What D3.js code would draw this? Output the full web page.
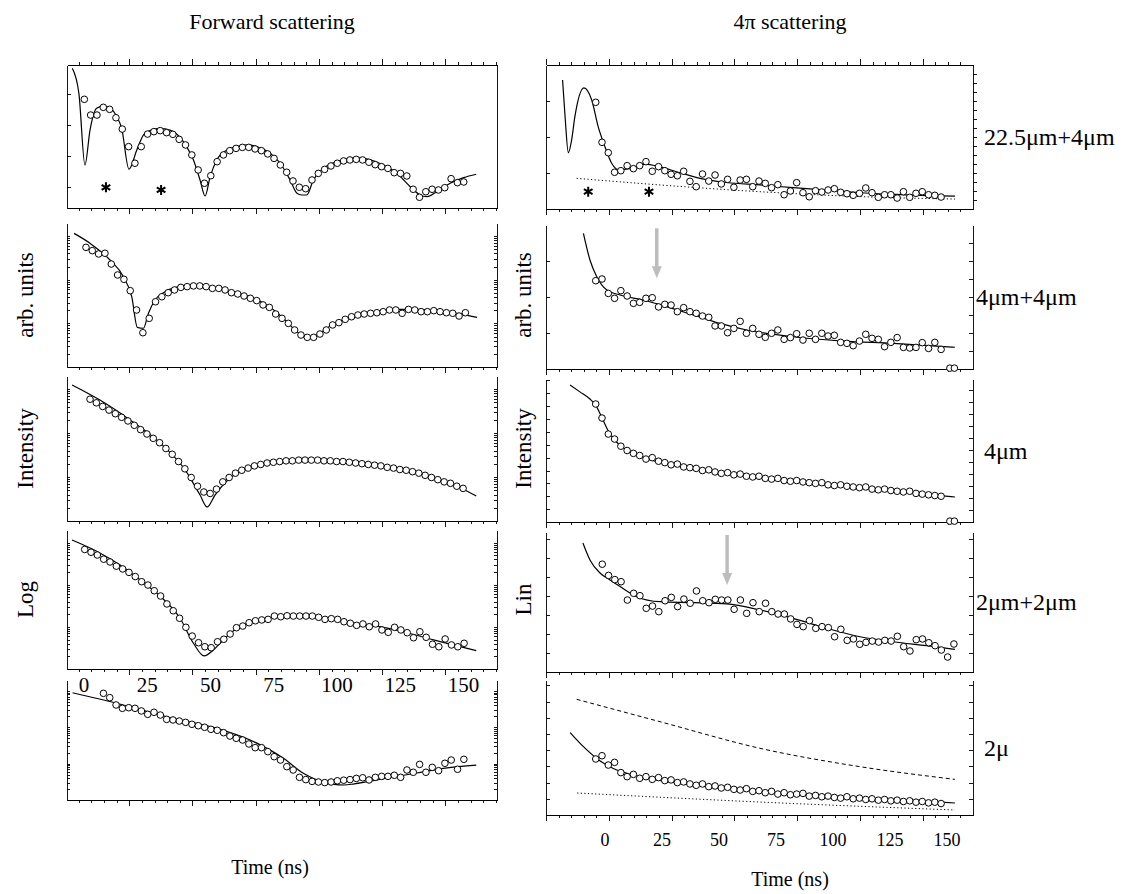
<!DOCTYPE html>
<html>
<head>
<meta charset="utf-8">
<script src="https://cdn.jsdelivr.net/npm/d3@7/dist/d3.min.js"></script>
<style>
  html, body { margin: 0; padding: 0; background: #fff; }
  svg { display: block; font-family: "Liberation Serif", "Times New Roman", serif; }
  .axis path, .axis line { stroke: #000; stroke-width: 0.9; shape-rendering: crispEdges; }
</style>
</head>
<body>
<div id="chart"></div>
<script>
/* Time spectra, forward vs 4π scattering.
   t in ns, intensity in panel units (0 = bottom of frame, 100 = top). */

const OBS_STEP = 2.5;

// ---- Forward scattering (left column) ----
const fwd1Fit = [[2.5,97.7],[5.1,80.2],[7.5,30.1],[9.5,54.5],[12.1,69.7],[14.8,71.3],[17.4,69.9],[20.1,63.8],[22.0,55.9],[24.9,27.1],[28.0,40.6],[30.6,51.0],[33.2,54.1],[37.2,55.7],[41.1,54.5],[45.1,49.4],[47.7,42.9],[50.4,33.6],[53.0,19.6],[55.0,8.4],[57.0,21.9],[59.6,33.6],[63.6,40.6],[67.5,42.9],[71.5,44.1],[75.4,42.9],[80.7,38.3],[84.7,31.3],[88.6,19.6],[91.3,10.3],[93.2,9.1],[95.2,9.1],[97.8,19.6],[101.8,27.8],[107.1,32.4],[112.3,34.8],[116.3,35.0],[120.3,33.6],[125.5,30.1],[130.8,24.3],[136.1,14.9],[140.0,9.1],[142.7,7.9],[146.6,11.4],[151.9,17.3],[157.2,21.2],[162.2,23.6]];
const fwd1Start = 7.25;
const fwd1Obs = [76.0,65.0,65.0,70.4,69.0,63.1,55.2,42.9,31.3,42.9,51.7,53.4,54.1,52.7,51.5,48.0,44.1,37.1,26.6,17.3,22.6,32.4,37.1,40.1,41.7,42.4,42.4,41.3,40.1,37.8,34.7,30.1,25.0,18.9,14.5,13.5,19.6,24.2,27.0,29.4,31.3,32.9,33.6,34.0,33.6,32.0,30.3,28.9,27.7,24.7,24.2,22.4,13.1,7.5,11.4,13.1,12.6,14.2,20.5,17.7,18.2];
const fwd1Stars = [[15.8,14.5],[37.6,12.6]];

const fwd2Fit = [[3.2,92.8],[9.5,85.9],[17.4,74.3],[22.7,62.7],[26.0,48.8],[28.2,27.5],[30.6,26.9],[32.6,37.3],[35.2,46.5],[39.2,52.3],[46.4,56.3],[51.7,56.9],[57.0,55.8],[64.9,52.8],[72.8,48.8],[79.4,43.1],[86.0,33.8],[91.3,24.5],[95.2,19.9],[99.2,22.2],[104.4,28.5],[112.3,34.5],[120.3,37.7],[130.8,40.0],[138.7,40.0],[146.6,39.1],[154.5,37.3],[162.5,34.5]];
const fwd2Start = 7.9;
const fwd2Obs = [83.1,80.8,78.5,79.0,71.5,63.9,60.9,53.0,39.6,23.8,33.8,45.3,48.8,51.6,53.5,55.3,55.8,56.3,56.3,55.8,54.6,54.6,53.5,51.6,50.7,49.3,47.7,46.1,43.1,41.4,36.8,33.8,30.3,25.7,22.2,20.6,20.6,22.9,25.7,29.2,30.8,33.1,34.9,36.1,36.8,37.3,37.7,38.4,39.6,39.6,37.3,40.0,39.6,38.4,38.4,39.1,38.4,37.7,37.3,35.4,37.7];

const fwd3Fit = [[2.4,93.8],[13.4,83.4],[25.3,69.7],[37.2,53.8],[47.1,35.2],[53.0,17.9],[55.8,9.7],[58.9,17.9],[64.9,29.7],[72.8,36.6],[84.7,40.7],[100.5,42.1],[112.3,41.4],[124.2,38.6],[140.0,33.1],[151.9,26.2],[162.2,17.2]];
const fwd3Start = 9.5;
const fwd3Obs = [84,81.5,79,76.5,74,71.5,69,66,63,60,57,54,50,46,41,36,30,24,20,19,22,27,30,33,35,36.5,38,39,40,40.5,41,41.5,41.5,42,42,42,42,41.5,41.5,41,41,40.5,40,39.5,39,38.5,38,37,36.5,35.5,35,34,33,31.5,30,28.5,27,26,24,22.5];

const fwd4Fit = [[2.4,92.8],[13.4,83.5],[21.4,74.8],[29.3,64.0],[37.2,52.5],[45.1,36.5],[50.4,18.5],[54.6,9.4],[58.3,13.7],[62.2,20.9],[67.5,29.3],[75.4,34.8],[83.3,37.6],[92.6,38.1],[101.8,36.5],[112.3,33.3],[122.9,30.9],[133.4,26.8],[145.3,20.9],[162.2,13.2]];
const fwd4Start = 7.4;
const fwd4Obs = [86,84,82,79,77,74,72,69.5,66.5,62.8,60.4,56.3,52.5,46.8,41.9,36.5,30.0,23.7,18.9,16.0,15.3,19.6,21.4,25.2,29.7,30.9,33.3,34.7,35.3,35.7,38.1,37.6,38.3,38.1,38.1,38.1,38.1,37.2,35.7,36.2,35.7,34.0,32.9,31.4,32.4,30.4,32.4,28.1,26.4,30.0,28.1,26.1,22.5,26.8,22.8,17.8,16.0,21.6,17.3,16.0,18.5];

const fwd5Fit = [[2.6,89.4],[20.1,80.6],[39.8,69.4],[59.6,59.7],[72.8,50.0],[86.0,34.7],[94.0,22.0],[100.0,16.0],[106.0,13.0],[110.0,12.5],[114.0,13.5],[125.0,17.5],[138.7,22.5],[150.0,26.5],[162.2,29.0]];
const fwd5Start = 14.8;
const fwd5Obs = [88.9,85.3,79.2,76.4,76.9,76.4,74.2,71.4,73.1,70.8,67.2,66.7,65.8,64.7,63.1,61.9,60.6,58.9,58.1,56.1,53.3,51.4,50.0,46.7,43.6,43.6,40.3,36.1,33.3,27.8,25.0,18.9,17,15.5,15,14.5,15,16,16.5,17,18,18.5,16.7,18.9,19.7,19.7,20.6,18.9,25.0,23.1,29.7,23.1,27.2,24.4,30.6,33.3,25.6,33.9];

// ---- 4π scattering (right column) ----
const sct1Fit = [[-18.4,89.6],[-17.4,64.1],[-16.1,39.1],[-14.8,47.9],[-13.5,64.1],[-9.9,84.1],[-6.8,75.7],[-4.2,57.0],[-1.5,43.1],[1.2,31.6],[3.8,27.4],[8.4,28.1],[14.4,31.1],[20.4,29.2],[27.0,25.9],[36.3,21.3],[46.9,18.4],[60.2,16.7],[73.4,14.8],[86.7,13.2],[100,11.3],[113.3,10.2],[126.5,9.3],[137.8,8.9]];
const sct1Dotted = [[-12.8,21.3],[20.4,16.7],[60.2,12.0],[100,8.6],[137.8,6.9]];
const sct1Start = -5.2;
const sct1Obs = [74.1,46.3,39.1,25.5,26.6,30.1,28.0,30.1,32.9,26.2,29.4,26.6,24.1,23.1,26.2,19.2,15.5,24.3,19.4,23.6,17.4,20.6,15.1,20.1,20.6,15.5,19.4,17.8,14.8,16.9,9.9,12.5,18.3,11.3,8.5,12.7,11.8,13.2,14.1,11.6,10.6,9.5,10.9,14.6,11.3,8.1,9.9,9.9,7.6,12.0,8.1,10.9,12.0,9.9,9.5,8.3];
const sct1Stars = [[-8.2,12.0],[16.0,12.0]];

const sct2Fit = [[-10.1,94.2],[-7.5,75.7],[-4.8,64.1],[-0.8,54.9],[4.5,51.4],[13.7,47.9],[23.0,43.3],[33.6,37.5],[44.3,31.7],[54.9,27.1],[73.4,22.4],[93.4,19.4],[113.3,17.8],[137.8,15.1]];
const sct2Start = -5.2;
const sct2Obs = [61.3,62.5,52.5,49.1,54.4,50.7,45.6,46.3,49.1,49.5,43.1,44.9,44.4,39.8,42.6,39.8,38.7,36.8,35.9,29.9,29.9,25.2,28.2,33.1,24.8,28.2,24.1,22.0,24.8,27.1,20.6,21.8,24.5,20.1,24.8,20.6,24.8,22.9,23.4,18.5,17.8,16.2,19.4,24.1,21.3,20.6,15.5,18.5,21.8,15.0,14.6,15.0,18.3,14.3,18.5,13.6];
const sct2Outliers = [[135.8,0.6],[137.6,0.6]];
const sct2Arrow = [19.1, 97.7, 63.0];

const sct3Fit = [[-15.4,95.8],[-11.5,91],[-7.5,86],[-5,81],[-2.5,72],[0,63],[2.5,57],[6.4,51],[10,47.5],[16.4,43.5],[25,40],[36.3,36.5],[56.2,31.5],[76.1,27.5],[96,24.5],[115.9,21],[137.8,17.5]];
const sct3Start = -5.2;
const sct3Obs = [82.5,72.7,61.5,58,53,50,48,46.5,44,45,42.5,41.5,40,40.5,38.5,38,37.5,36,36.5,35,34,34.5,33,33.5,32,31.5,32,30.5,30,30.5,29,28.5,29,28,27.5,27,27.5,26,25.5,26,25,24.5,24,24.5,23,22.5,23,22,21.5,21,21.5,20,19.5,19,18.5,18];
const sct3Outliers = [[135.8,0.6],[137.6,0.6]];

const sct4Fit = [[-10.3,92.1],[-7.5,80],[-3.5,70.7],[0.5,65.7],[4.5,61],[11.1,53.8],[20.4,50.2],[33.6,49.5],[46.9,48.6],[60.2,44.3],[73.4,38.3],[86.7,31.2],[100,25.2],[113.3,21.6],[126.5,18.8],[137.8,16.2]];
const sct4Start = -2.6;
const sct4Obs = [77,69,66,64.5,51.4,56.2,54.5,45.5,47.1,43.1,50.9,53.3,46.7,52.1,49.1,57.9,50.9,49.5,51.9,51.4,51.4,44.8,51.4,41.9,49.5,43.1,49.1,43.1,41.4,41.4,37.9,34.0,32.4,36.7,31.2,32.4,31.7,25.2,30.5,22.6,23.6,19.8,21.2,22.1,21.4,22.6,22.1,25.5,18.1,15.0,23.1,23.6,20.9,18.8,15.7,10.7,20.0];
const sct4Arrow = [47.1, 97.9, 62.1];

const sct5Fit = [[-15.4,61],[-10.1,50.6],[-4.8,41.9],[1.8,34.4],[9.8,29.6],[36.3,21.5],[76.1,15.6],[115.9,11.1],[137.8,8.9]];
const sct5Dashed = [[-12.8,85.7],[20.4,69.1],[60.2,49.4],[100,35.8],[137.8,26.4]];
const sct5Dotted = [[-12.6,16.3],[60.2,9.6],[137.8,3.7]];
const sct5Start = -5.2;
const sct5Obs = [41.5,43.9,37.0,39.0,31.4,28.4,30.1,27.2,28.4,26.4,27.7,25.5,26,24,24.5,23,22,23,21,21.5,20,20.5,19,18.5,19.5,17.5,18,16.5,17.5,15.5,16.5,15,15.5,16,14,14.5,13.5,14,13,12.5,13.5,12,12.5,11.5,12,11,11.5,10.5,11,10,10.5,9.5,10,9,9.5,8.5];

// ---- labels ----
const timeTicks = [0, 25, 50, 75, 100, 125, 150];
const colTitles = ["Forward scattering", "4\u03c0 scattering"];
const yLabels = ["arb. units", "Intensity", "Log"];
const yLabelsRight = ["arb. units", "Intensity", "Lin"];
const sampleLabels = ["22.5\u03bcm+4\u03bcm", "4\u03bcm+4\u03bcm", "4\u03bcm", "2\u03bcm+2\u03bcm", "2\u03bc"];

(function () {
  const W = 1133, H = 894;
  const svg = d3.select('#chart').append('svg').attr('width', W).attr('height', H);
  svg.append('rect').attr('width', W).attr('height', H).attr('fill', '#fff');

  // column frames and row frames (pixels)
  const COLS = [
    { x0: 67, x1: 497, rows: [[65, 208], [223, 367], [376, 521], [530, 669], [680, 800]] },
    { x0: 546, x1: 973, rows: [[65, 209], [225, 369], [379, 522], [532, 672], [680, 815]] }
  ];
  const xLeft = d3.scaleLinear().domain([0.4, 170.4]).range([COLS[0].x0, COLS[0].x1]);
  const xRight = d3.scaleLinear().domain([-25, 145]).range([COLS[1].x0, COLS[1].x1]);
  // the printed labels of the right column are spaced on their own
  const xRightLabel = d3.scaleLinear().domain([0, 150]).range([605, 947]);

  const obsPoints = (start, vals) => vals.map((v, i) => [start + i * OBS_STEP, v]);

  const panels = [
    { col: 0, row: 0, fit: fwd1Fit, obs: obsPoints(fwd1Start, fwd1Obs), stars: fwd1Stars, yTicks: 'lin4', top: true },
    { col: 0, row: 1, fit: fwd2Fit, obs: obsPoints(fwd2Start, fwd2Obs), yTicks: 'log' },
    { col: 0, row: 2, fit: fwd3Fit, obs: obsPoints(fwd3Start, fwd3Obs), yTicks: 'log' },
    { col: 0, row: 3, fit: fwd4Fit, obs: obsPoints(fwd4Start, fwd4Obs), yTicks: 'log' },
    { col: 0, row: 4, fit: fwd5Fit, obs: obsPoints(fwd5Start, fwd5Obs), yTicks: 'log' },
    { col: 1, row: 0, fit: sct1Fit, obs: obsPoints(sct1Start, sct1Obs), dotted: sct1Dotted, stars: sct1Stars, top: true, leftStep: 25, rightStep: 6.25, rightOut: true },
    { col: 1, row: 1, fit: sct2Fit, obs: obsPoints(sct2Start, sct2Obs).concat(sct2Outliers), arrow: sct2Arrow, leftStep: 25, rightStep: 12.5 },
    { col: 1, row: 2, fit: sct3Fit, obs: obsPoints(sct3Start, sct3Obs).concat(sct3Outliers), leftStep: 9, rightStep: 8.4 },
    { col: 1, row: 3, fit: sct4Fit, obs: obsPoints(sct4Start, sct4Obs), arrow: sct4Arrow, leftStep: 13.6, rightStep: 13.6 },
    { col: 1, row: 4, fit: sct5Fit, obs: obsPoints(sct5Start, sct5Obs), dashed: sct5Dashed, dotted: sct5Dotted, leftStep: 12, rightStep: 12 }
  ];

  function stepTicks(step) {
    const out = [];
    for (let v = step; v < 100; v += step) out.push(v);
    return out;
  }

  function drawPanel(p) {
    const c = COLS[p.col];
    const [top, bottom] = c.rows[p.row];
    const x = p.col === 0 ? xLeft : xRight;
    const y = d3.scaleLinear().domain([0, 100]).range([bottom, top]);
    const g = svg.append('g');

    // time axis: minor ticks every 5 ns, longer ones every 25 ns
    const dom = x.domain();
    const minor = d3.range(Math.ceil(dom[0] / 5) * 5, dom[1], 5).filter(v => v % 25 !== 0);
    const major = d3.range(Math.ceil(dom[0] / 25) * 25, dom[1], 25);
    const tAxes = [[bottom, d3.axisBottom]];
    if (p.top) tAxes.push([top, d3.axisTop]);
    tAxes.forEach(([yy, fn]) => {
      g.append('g').attr('class', 'axis').attr('transform', `translate(0,${yy})`)
        .call(fn(x).tickValues(minor).tickSize(3).tickSizeOuter(0).tickFormat(''));
      g.append('g').attr('class', 'axis').attr('transform', `translate(0,${yy})`)
        .call(fn(x).tickValues(major).tickSize(6).tickSizeOuter(0).tickFormat(''));
    });

    // vertical axes
    if (p.yTicks === 'log') {
      const ylog = d3.scaleLog().domain([1, 2000]).range([bottom, top]);
      const tv = ylog.ticks().filter(v => v > 1 && v < 2000);
      [[c.x0, d3.axisRight], [c.x1, d3.axisLeft]].forEach(([xx, fn]) => {
        g.append('g').attr('class', 'axis').attr('transform', `translate(${xx},0)`)
          .call(fn(ylog).tickValues(tv).tickSize(3).tickSizeOuter(0).tickFormat(''));
      });
    } else if (p.yTicks === 'lin4') {
      g.append('g').attr('class', 'axis').attr('transform', `translate(${c.x0},0)`)
        .call(d3.axisRight(y).tickValues([15, 36.5, 58, 79.5]).tickSize(4).tickSizeOuter(0).tickFormat(''));
      g.append('g').attr('class', 'axis').attr('transform', `translate(${c.x1},0)`)
        .call(d3.axisLeft(y).tickValues([]).tickSizeOuter(0));
    } else {
      g.append('g').attr('class', 'axis').attr('transform', `translate(${c.x0},0)`)
        .call(d3.axisRight(y).tickValues(stepTicks(p.leftStep)).tickSize(4).tickSizeOuter(0).tickFormat(''));
      const rfn = p.rightOut ? d3.axisRight : d3.axisLeft;
      g.append('g').attr('class', 'axis').attr('transform', `translate(${c.x1},0)`)
        .call(rfn(y).tickValues(stepTicks(p.rightStep)).tickSize(4).tickSizeOuter(0).tickFormat(''));
    }

    const line = d3.line().x(d => x(d[0])).y(d => y(d[1])).curve(d3.curveMonotoneX);
    if (p.dashed) {
      g.append('path').attr('d', line(p.dashed))
        .attr('fill', 'none').attr('stroke', '#000').attr('stroke-width', 1).attr('stroke-dasharray', '4,3');
    }
    if (p.dotted) {
      g.append('path').attr('d', line(p.dotted))
        .attr('fill', 'none').attr('stroke', '#000').attr('stroke-width', 1).attr('stroke-dasharray', '1.2,2.4');
    }
    g.append('path').attr('d', line(p.fit))
      .attr('fill', 'none').attr('stroke', '#000').attr('stroke-width', 1.2);

    g.selectAll('circle.obs').data(p.obs).join('circle')
      .attr('class', 'obs')
      .attr('cx', d => x(d[0])).attr('cy', d => y(d[1])).attr('r', 3.3)
      .attr('fill', '#fff').attr('stroke', '#000').attr('stroke-width', 1);

    if (p.stars) {
      g.selectAll('path.star').data(p.stars).join('path')
        .attr('class', 'star')
        .attr('transform', d => `translate(${x(d[0])},${y(d[1])})`)
        .attr('d', d3.symbol(d3.symbolAsterisk, 70))
        .attr('stroke', '#000').attr('stroke-width', 2).attr('fill', 'none');
    }

    if (p.arrow) {
      const [t, v0, v1] = p.arrow;
      const ax = x(t), yFrom = y(v0), yTo = y(v1);
      g.append('line').attr('x1', ax).attr('x2', ax).attr('y1', yFrom).attr('y2', yTo - 10)
        .attr('stroke', '#bdbdbd').attr('stroke-width', 3.5);
      g.append('path').attr('d', `M${ax - 5},${yTo - 12}L${ax + 5},${yTo - 12}L${ax},${yTo}Z`).attr('fill', '#bdbdbd');
    }
  }

  panels.forEach(drawPanel);

  // time tick labels: left column sits under the Log panel, right column under the bottom panel
  svg.append('g').selectAll('text').data(timeTicks).join('text')
    .attr('x', d => xLeft(d) + 18).attr('y', 692)
    .attr('text-anchor', 'middle').attr('font-size', 21).text(d => d);
  svg.append('g').selectAll('text').data(timeTicks).join('text')
    .attr('x', d => xRightLabel(d)).attr('y', 846)
    .attr('text-anchor', 'middle').attr('font-size', 18).text(d => d);

  svg.append('text').attr('x', 270).attr('y', 874).attr('text-anchor', 'middle').attr('font-size', 20).text('Time (ns)');
  svg.append('text').attr('x', 790).attr('y', 886).attr('text-anchor', 'middle').attr('font-size', 20).text('Time (ns)');

  // column titles
  svg.selectAll('text.title').data(colTitles).join('text')
    .attr('class', 'title')
    .attr('x', (d, i) => i === 0 ? 272 : 790).attr('y', 29)
    .attr('text-anchor', 'middle').attr('font-size', 22).text(d => d);

  // rotated y labels, one per middle row
  [[yLabels, 33], [yLabelsRight, 531]].forEach(([labels, lx]) => {
    labels.forEach((lab, i) => {
      const row = COLS[0].rows[i + 1];
      const cy = (row[0] + row[1]) / 2;
      svg.append('text').attr('transform', `translate(${lx},${cy}) rotate(-90)`)
        .attr('text-anchor', 'middle').attr('font-size', 23).text(lab);
    });
  });

  // sample labels at right
  sampleLabels.forEach((lab, i) => {
    const row = COLS[1].rows[i];
    svg.append('text').attr('x', i === 1 || i === 3 ? 976 : 984).attr('y', (row[0] + row[1]) / 2 + 8)
      .attr('font-family', '"Liberation Serif", serif')
      .attr('font-size', 24).text(lab);
  });
})();
</script>
</body>
</html>
